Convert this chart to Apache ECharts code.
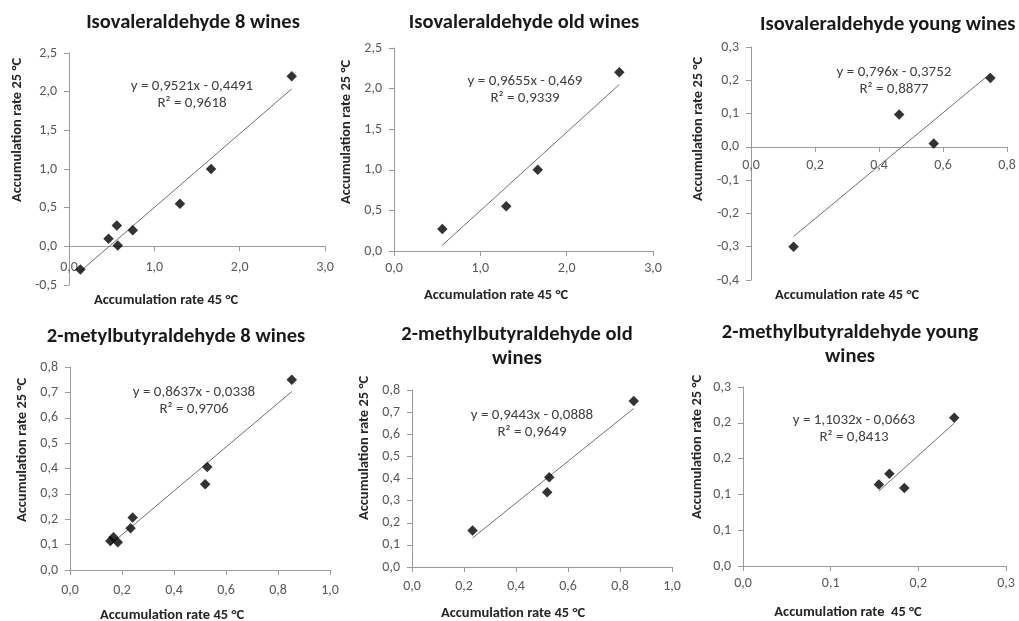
<!DOCTYPE html>
<html>
<head>
<meta charset="utf-8">
<script src="https://cdn.jsdelivr.net/npm/echarts@6/dist/echarts.min.js"></script>
<style>
  html, body { margin: 0; padding: 0; background: #fff; }
  #chart { width: 1019px; height: 621px; }
</style>
</head>
<body>
<div id="chart"></div>
<script>
// Accumulation rates at 45 °C (x) and 25 °C (y) — isovaleraldehyde
const isoOld45   = [0.56, 1.30, 1.665, 2.61];
const isoOld25   = [0.27, 0.55, 1.00, 2.20];
const isoYoung45 = [0.133, 0.463, 0.571, 0.748];
const isoYoung25 = [-0.30, 0.097, 0.01, 0.207];

// 2-methylbutyraldehyde
const mbOld45   = [0.233, 0.52, 0.528, 0.853];
const mbOld25   = [0.165, 0.338, 0.406, 0.75];
const mbYoung45 = [0.155, 0.167, 0.184, 0.241];
const mbYoung25 = [0.114, 0.129, 0.109, 0.207];

// Linear fits printed on each panel
const slopes     = [0.9521, 0.9655, 0.796, 0.8637, 0.9443, 1.1032];
const intercepts = [-0.4491, -0.469, -0.3752, -0.0338, -0.0888, -0.0663];
const r2s        = [0.9618, 0.9339, 0.8877, 0.9706, 0.9649, 0.8413];

// Panel titles (one entry per line)
const panelTitles = [
  ['Isovaleraldehyde 8 wines'],
  ['Isovaleraldehyde old wines'],
  ['Isovaleraldehyde young wines'],
  ['2-metylbutyraldehyde 8 wines'],
  ['2-methylbutyraldehyde old', 'wines'],
  ['2-methylbutyraldehyde young', 'wines']
];
const xTitles = [
  'Accumulation rate 45 °C', 'Accumulation rate 45 °C', 'Accumulation rate 45 °C',
  'Accumulation rate 45 °C', 'Accumulation rate 45 °C', 'Accumulation rate  45 °C'
];
const yTitle = 'Accumulation rate 25 °C';

// Axis ranges: [min, max, interval]
const xRanges = [[0, 3, 1], [0, 3, 1], [0, 0.8, 0.2], [0, 1, 0.2], [0, 1, 0.2], [0, 0.3, 0.1]];
const yRanges = [[-0.5, 2.5, 0.5], [0, 2.5, 0.5], [-0.4, 0.3, 0.1], [0, 0.8, 0.1], [0, 0.8, 0.1], [0, 0.25, 0.05]];

// Point sets per panel
const pts = (xs, ys) => xs.map((x, i) => [x, ys[i]]);
const panelData = [
  pts(isoOld45.concat(isoYoung45), isoOld25.concat(isoYoung25)),
  pts(isoOld45, isoOld25),
  pts(isoYoung45, isoYoung25),
  pts(mbOld45.concat(mbYoung45), mbOld25.concat(mbYoung25)),
  pts(mbOld45, mbOld25),
  pts(mbYoung45, mbYoung25)
];

// Layout of each panel
const layout = [
  { grid: [69, 53, 256, 232],  title: [193, 23, 'center'], eq: [192, 86],  xt: [166, 300], yt: [17, 130],  xm: 14 },
  { grid: [394, 48, 259, 203], title: [524, 23, 'center'], eq: [525, 81],  xt: [496, 295], yt: [346, 132], xm: 10 },
  { grid: [751, 47, 256, 233], title: [760, 25, 'left'],   eq: [894, 72],  xt: [847, 295], yt: [698, 129], xm: 12 },
  { grid: [70, 367, 260, 203], title: [176, 337, 'center'], eq: [194, 392], xt: [172, 615], yt: [22, 450],  xm: 13 },
  { grid: [412, 390, 260, 177], title: [517, 335, 'center'], eq: [532, 415], xt: [513, 613], yt: [364, 448], xm: 12 },
  { grid: [743, 387, 263, 179], title: [850, 333, 'center'], eq: [854, 420], xt: [848, 612], yt: [697, 447], xm: 10 }
];

const FONT = 'Carlito, Lato, "Open Sans", sans-serif';
const AXIS_COLOR = '#9a9a9a';

const comma1 = v => (Math.round(v * 10) / 10).toFixed(1).replace('.', ',');
const fmtNum = v => String(+Math.abs(v).toFixed(4)).replace('.', ',');

const grids = [], xAxes = [], yAxes = [], series = [], graphics = [];

layout.forEach((L, i) => {
  grids.push({ left: L.grid[0], top: L.grid[1], width: L.grid[2], height: L.grid[3], outerBoundsMode: 'none' });

  const axisCommon = {
    type: 'value', gridIndex: i,
    axisLine: { show: true, onZero: false, lineStyle: { color: AXIS_COLOR, width: 1 } },
    axisTick: { show: true, inside: false, length: 5, lineStyle: { color: AXIS_COLOR } },
    splitLine: { show: false },
    axisLabel: { color: '#595959', fontFamily: FONT, fontSize: 14, formatter: comma1, showMinLabel: true, showMaxLabel: true }
  };
  // The horizontal axis crosses the vertical one at y = 0
  const [ymin, ymax] = yRanges[i];
  const zeroShift = ymin < 0 ? -L.grid[3] * (0 - ymin) / (ymax - ymin) : 0;
  xAxes.push(Object.assign({}, axisCommon, {
    min: xRanges[i][0], max: xRanges[i][1], interval: xRanges[i][2],
    position: 'bottom', offset: zeroShift,
    axisLabel: Object.assign({}, axisCommon.axisLabel, { margin: L.xm })
  }));
  yAxes.push(Object.assign({}, axisCommon, {
    min: yRanges[i][0], max: yRanges[i][1], interval: yRanges[i][2],
    axisLabel: Object.assign({}, axisCommon.axisLabel, { margin: 12 })
  }));

  // Trend line across the data's x extent
  const xs = panelData[i].map(p => p[0]);
  const x0 = Math.min(...xs), x1 = Math.max(...xs);
  series.push({
    type: 'line', xAxisIndex: i, yAxisIndex: i, silent: true, showSymbol: false, symbol: 'none',
    data: [[x0, slopes[i] * x0 + intercepts[i]], [x1, slopes[i] * x1 + intercepts[i]]],
    lineStyle: { color: '#707070', width: 1 }, z: 2
  });
  series.push({
    type: 'scatter', xAxisIndex: i, yAxisIndex: i, symbol: 'diamond', symbolSize: 10.5,
    itemStyle: { color: '#000' }, data: panelData[i], z: 3
  });

  // Title lines
  panelTitles[i].forEach((line, k) => {
    graphics.push({
      type: 'text', x: L.title[0], y: L.title[1] + k * 24,
      style: { text: line, fill: '#1a1a1a', font: 'bold 20.5px ' + FONT, textAlign: L.title[2], textVerticalAlign: 'middle' }
    });
  });

  // Fit equation and R²
  const sign = intercepts[i] < 0 ? '- ' : '+ ';
  graphics.push({
    type: 'text', x: L.eq[0], y: L.eq[1],
    style: { text: 'y = ' + fmtNum(slopes[i]) + 'x ' + sign + fmtNum(intercepts[i]), fill: '#404040', font: '15px ' + FONT, textAlign: 'center', textVerticalAlign: 'middle' }
  });
  graphics.push({
    type: 'text', x: L.eq[0], y: L.eq[1] + 17,
    style: { text: 'R² = ' + fmtNum(r2s[i]), fill: '#404040', font: '15px ' + FONT, textAlign: 'center', textVerticalAlign: 'middle' }
  });

  // Axis titles
  graphics.push({
    type: 'text', x: L.xt[0], y: L.xt[1],
    style: { text: xTitles[i], fill: '#262626', font: 'bold 14.5px ' + FONT, textAlign: 'center', textVerticalAlign: 'middle' }
  });
  graphics.push({
    type: 'text', x: L.yt[0], y: L.yt[1], rotation: Math.PI / 2,
    style: { text: yTitle, fill: '#262626', font: 'bold 14.5px ' + FONT, textAlign: 'center', textVerticalAlign: 'middle' }
  });
});

const chart = echarts.init(document.getElementById('chart'), null, { renderer: 'canvas' });
chart.setOption({
  animation: false,
  backgroundColor: '#fff',
  grid: grids,
  xAxis: xAxes,
  yAxis: yAxes,
  series: series,
  graphic: { elements: graphics }
});
</script>
</body>
</html>
